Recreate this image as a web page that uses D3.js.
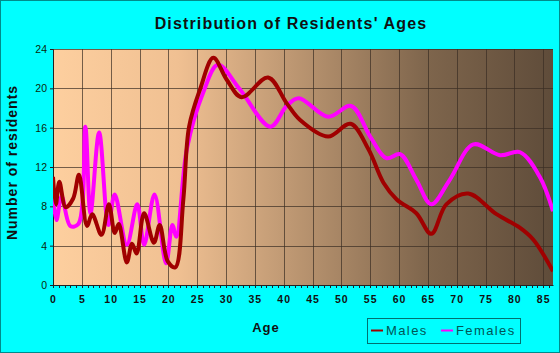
<!DOCTYPE html>
<html>
<head>
<meta charset="utf-8">
<script src="https://cdn.jsdelivr.net/npm/d3@7/dist/d3.min.js"></script>
<style>
  body { margin: 0; background: #fff; }
  svg { display: block; font-family: "Liberation Sans", Arial, sans-serif; }
</style>
</head>
<body>
<script>
// data (age, number of residents)
var maleAges = [0, 0.5, 1.1, 2.2, 3.5, 4.5, 5.9, 6.8, 8.4, 9.7, 10.7, 11.4, 12.8, 13.7, 14.5, 15.8, 17.5, 18.5, 19.9, 21.2,
    22.6, 23.6, 25.5, 27.8, 30.1, 32.7, 37.3, 40.5, 42.8, 47.7, 51.6, 54.7, 57.3, 59.6, 63.0, 65.6, 68.2, 72.0, 76.9, 81.0, 83.3, 86.7];
var maleValues = [11.0, 8.2, 10.5, 7.9, 8.8, 11.2, 6.0, 7.2, 5.1, 8.2, 5.3, 6.2, 2.3, 4.2, 3.2, 7.3, 4.3, 6.1, 2.4, 1.8,
    8.7, 16.1, 19.9, 23.1, 20.9, 19.1, 21.1, 18.5, 16.8, 15.1, 16.4, 13.8, 10.4, 8.7, 7.3, 5.2, 8.2, 9.3, 7.2, 5.8, 4.6, 1.4];

var femaleAges = [0, 0.6, 1.5, 3.0, 4.4, 5.6, 6.5, 8.0, 9.6, 10.7, 12.8, 14.6, 15.8, 17.6, 19.6, 20.7, 21.4,
    23.2, 26.0, 28.6, 32.4, 37.7, 40.5, 42.6, 47.7, 51.7, 55.0, 57.8, 60.2, 63.0, 65.6, 68.8, 72.9, 77.5, 81.0, 84.4, 86.7];
var femaleValues = [9.0, 6.6, 9.0, 6.0, 6.2, 16.1, 7.3, 15.5, 6.1, 9.2, 4.1, 8.2, 4.1, 9.2, 2.2, 6.1, 4.9,
    13.8, 19.5, 22.4, 19.9, 16.1, 18.2, 19.0, 17.1, 18.2, 15.1, 12.9, 13.3, 10.7, 8.2, 10.7, 14.3, 13.2, 13.5, 11.0, 7.5];

var xTicks = d3.range(0, 90, 5);
var yTicks = [0, 4, 8, 12, 16, 20, 24];

var w = 560, h = 353;
var pLeft = 53, pRight = 553, pTop = 49, pBottom = 285;

var svg = d3.select('body').append('svg').attr('width', w).attr('height', h);

// cyan background with dark teal frame
svg.append('rect')
    .attr('x', 0.5).attr('y', 0.5)
    .attr('width', w - 1).attr('height', h - 1)
    .attr('fill', '#00ffff')
    .attr('stroke', '#008b8b')
    .attr('stroke-width', 1);

var xScale = d3.scaleLinear().domain([0, 86.7]).range([pLeft, pRight]);
var yScale = d3.scaleLinear().domain([0, 24]).range([pBottom, pTop]);

// plot background gradient
var defs = svg.append('defs');
var grad = defs.append('linearGradient').attr('id', 'bg').attr('x1', '0%').attr('x2', '100%');
[['0%', '#fdcf9f'], ['25%', '#f0c092'], ['50%', '#b8936f'], ['75%', '#7e654c'], ['100%', '#5f4c3a']]
    .forEach(function(s) {
        grad.append('stop').attr('offset', s[0]).attr('stop-color', s[1]);
    });
defs.append('clipPath').attr('id', 'clip')
    .append('rect').attr('x', pLeft).attr('y', pTop - 3).attr('width', pRight - pLeft).attr('height', pBottom - pTop + 6);

svg.append('rect')
    .attr('x', pLeft).attr('y', pTop)
    .attr('width', pRight - pLeft).attr('height', pBottom - pTop)
    .attr('fill', 'url(#bg)');

// grid
svg.append('g').selectAll('line')
    .data(xTicks.filter(function(d) { return d > 0; }))
    .enter().append('line')
    .attr('x1', function(d) { return Math.round(xScale(d)) + 0.5; })
    .attr('x2', function(d) { return Math.round(xScale(d)) + 0.5; })
    .attr('y1', pTop).attr('y2', pBottom)
    .attr('stroke', '#3a2e24').attr('stroke-opacity', 0.7);

svg.append('g').selectAll('line')
    .data(yTicks.filter(function(d) { return d > 0; }))
    .enter().append('line')
    .attr('x1', pLeft).attr('x2', pRight)
    .attr('y1', function(d) { return Math.round(yScale(d)) + 0.5; })
    .attr('y2', function(d) { return Math.round(yScale(d)) + 0.5; })
    .attr('stroke', '#3a2e24').attr('stroke-opacity', 0.7);

// axes
var xAxis = d3.axisBottom(xScale).tickValues(xTicks).tickSize(0).tickPadding(11);
var gx = svg.append('g')
    .attr('transform', 'translate(0,' + pBottom + ')')
    .call(xAxis);
gx.select('.domain').attr('stroke', '#222');
gx.selectAll('text')
    .attr('font-size', '10.5px').attr('font-weight', 'bold')
    .attr('fill', '#111').attr('letter-spacing', '1px');

// minor ticks, one per year
svg.append('g').selectAll('line')
    .data(d3.range(0, 87))
    .enter().append('line')
    .attr('x1', function(d) { return Math.round(xScale(d)) + 0.5; })
    .attr('x2', function(d) { return Math.round(xScale(d)) + 0.5; })
    .attr('y1', pBottom).attr('y2', pBottom + 3)
    .attr('stroke', '#222');

var yAxis = d3.axisLeft(yScale).tickValues(yTicks).tickSize(3).tickPadding(3);
var gy = svg.append('g')
    .attr('transform', 'translate(' + pLeft + ',0)')
    .call(yAxis);
gy.select('.domain').attr('stroke', '#222');
gy.selectAll('.tick line').attr('stroke', '#222');
gy.selectAll('text')
    .attr('font-size', '10.5px').attr('fill', '#0a2a0a');

// lines
var line = d3.line()
    .x(function(d) { return xScale(d[0]); })
    .y(function(d) { return yScale(d[1]); })
    .curve(d3.curveCatmullRom.alpha(0.5));

var plot = svg.append('g').attr('clip-path', 'url(#clip)');

plot.append('path')
    .datum(d3.zip(femaleAges, femaleValues))
    .attr('d', line)
    .attr('fill', 'none')
    .attr('stroke', '#ff00ff')
    .attr('stroke-width', 4)
    .attr('stroke-linejoin', 'round');

plot.append('path')
    .datum(d3.zip(maleAges, maleValues))
    .attr('d', line)
    .attr('fill', 'none')
    .attr('stroke', '#a00000')
    .attr('stroke-width', 4)
    .attr('stroke-linejoin', 'round');

// titles
svg.append('text')
    .text("Distribution of Residents' Ages")
    .attr('x', 291).attr('y', 28.5)
    .attr('text-anchor', 'middle')
    .attr('font-size', '16px').attr('font-weight', 'bold')
    .attr('letter-spacing', '1.15px')
    .attr('fill', '#111');

svg.append('text')
    .text('Number of residents')
    .attr('transform', 'translate(17,162.5) rotate(-90)')
    .attr('text-anchor', 'middle')
    .attr('font-size', '14px').attr('font-weight', 'bold')
    .attr('letter-spacing', '1px')
    .attr('fill', '#111');

svg.append('text')
    .text('Age')
    .attr('x', 266).attr('y', 332)
    .attr('text-anchor', 'middle')
    .attr('font-size', '13px').attr('font-weight', 'bold')
    .attr('letter-spacing', '1px')
    .attr('fill', '#111');

// legend
var legend = svg.append('g');
legend.append('rect')
    .attr('x', 367.5).attr('y', 318.5)
    .attr('width', 153).attr('height', 25)
    .attr('fill', 'none')
    .attr('stroke', '#007070');

var legendItems = [['Males', '#a00000', 371], ['Females', '#ff00ff', 441]];
legendItems.forEach(function(item) {
    legend.append('line')
        .attr('x1', item[2]).attr('x2', item[2] + 12)
        .attr('y1', 330.5).attr('y2', 330.5)
        .attr('stroke', item[1]).attr('stroke-width', 2);
    legend.append('text')
        .text(item[0])
        .attr('x', item[2] + 15).attr('y', 335)
        .attr('font-size', '13px')
        .attr('letter-spacing', '1.4px')
        .attr('fill', '#005555');
});
</script>
</body>
</html>
